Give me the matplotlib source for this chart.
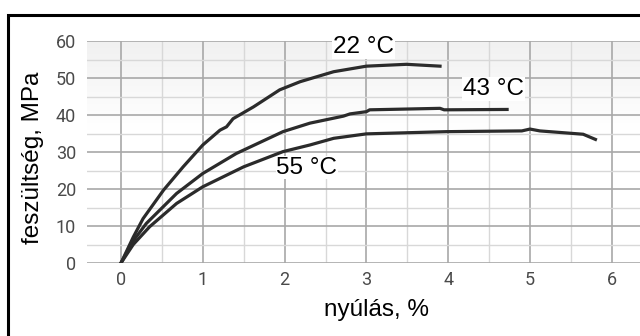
import numpy as np
import matplotlib.pyplot as plt
from matplotlib.patches import Rectangle
from matplotlib.ticker import MultipleLocator

# stress-strain curves
x_22 = [0, 0.15, 0.27, 0.52, 0.76, 1.0, 1.21, 1.29, 1.37, 1.62, 1.94, 2.19, 2.6, 3.0, 3.49, 3.9]
y_22 = [0, 7.0, 12.0, 19.7, 26.0, 31.9, 35.9, 36.8, 39.0, 42.2, 46.8, 49.0, 51.7, 53.2, 53.7, 53.2]

x_43 = [0, 0.15, 0.31, 0.68, 1.0, 1.41, 1.98, 2.31, 2.72, 2.8, 3.0, 3.04, 3.9, 3.95, 4.72]
y_43 = [0, 6.0, 10.7, 18.8, 24.2, 29.6, 35.5, 37.8, 39.7, 40.3, 40.9, 41.4, 41.8, 41.4, 41.5]

x_55 = [0, 0.15, 0.35, 0.68, 1.0, 1.5, 1.98, 2.31, 2.6, 3.0, 3.98, 4.9, 5.0, 5.12, 5.65, 5.8]
y_55 = [0, 5.0, 9.8, 16.1, 20.6, 26.0, 30.1, 31.9, 33.7, 34.9, 35.5, 35.7, 36.2, 35.7, 34.8, 33.4]

labels = ['22 °C', '43 °C', '55 °C']
label_pos = [(2.59, 58.3), (4.18, 47.0), (1.90, 25.8)]

line_color = '#2b2b2b'

fig = plt.figure(figsize=(6.4, 3.36), dpi=100)
ax = fig.add_axes([87/640, 1-263/336, 1-87/640, (263-41)/336])

# outer frame (only left and top edges are inside the picture)
fig.patches.append(Rectangle((8/640, -0.1), 1.2, (336-15)/336+0.1, transform=fig.transFigure,
                             fill=False, edgecolor='black', linewidth=2.2))

xmin, xmax = (87-121)/81.8, (640-121)/81.8
ax.set_xlim(xmin, xmax)
ax.set_ylim(0, 60)

# light gray fade at the top
fade = np.linspace(1.0, 0.945, 100)
grad = np.repeat(fade[:, None, None], 3, axis=2)
ax.imshow(grad, extent=[xmin, xmax, 36, 60], origin='lower', aspect='auto', zorder=0)

ax.xaxis.set_major_locator(MultipleLocator(1))
ax.xaxis.set_minor_locator(MultipleLocator(0.5))
ax.yaxis.set_major_locator(MultipleLocator(10))
ax.yaxis.set_minor_locator(MultipleLocator(5))
ax.grid(which='major', color='#a8a8a8', linewidth=1.2, zorder=1)
ax.grid(which='minor', color='#d8d8d8', linewidth=1.0, zorder=1)
ax.set_axisbelow(True)
for sp in ax.spines.values():
    sp.set_visible(False)
ax.tick_params(which='both', length=0)
ax.tick_params(axis='y', pad=8, labelsize=13, labelcolor='#4a4a4a')
ax.tick_params(axis='x', pad=6, labelsize=13, labelcolor='#4a4a4a')
ax.set_xticks(range(0, 7))
ax.set_yticks(range(0, 61, 10))
for t in ax.get_xticklabels() + ax.get_yticklabels():
    t.set_fontfamily('Roboto')

ax.plot(x_22, y_22, color=line_color, linewidth=2.3, zorder=3)
ax.plot(x_43, y_43, color=line_color, linewidth=2.3, zorder=3)
ax.plot(x_55, y_55, color=line_color, linewidth=2.3, zorder=3)

for txt, (tx, ty) in zip(labels, label_pos):
    ax.text(tx, ty, txt, fontsize=17.5, family='Liberation Sans', va='center', ha='left',
            bbox=dict(facecolor='white', edgecolor='none', pad=0.5), zorder=4)

fig.text(33/640, 1-158/336, 'feszültség, MPa', rotation=90, fontsize=17.5,
         family='Liberation Sans', ha='center', va='center')
fig.text(376/640, 1-310/336, 'nyúlás, %', fontsize=17.5, family='Liberation Sans',
         ha='center', va='center')

fig.savefig('out.png', dpi=100)
